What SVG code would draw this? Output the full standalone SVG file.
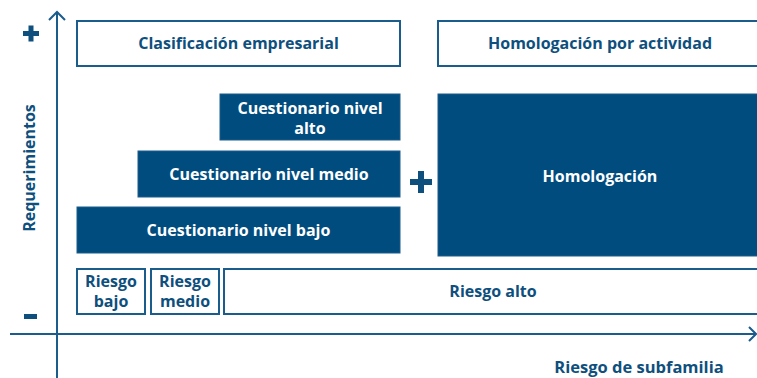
<svg xmlns="http://www.w3.org/2000/svg" width="757" height="378" viewBox="0 0 757 378">
<defs>
<style>
.o{fill:#fff;stroke:#1a5c8c;stroke-width:2}
.f{fill:#004c7e;stroke:#1a5c8c;stroke-width:1}
.t{font-family:"Open Sans","Liberation Sans",sans-serif;font-weight:700;font-size:16px;text-anchor:middle}
.d{fill:#0e4f7d}
.w{fill:#fff}
.ax{stroke:#1a5c8c;stroke-width:2;fill:none}
.sym{fill:#0e4f7d}
</style>
</defs>
<rect width="757" height="378" fill="#fff"/>
<g id="axes">
<line class="ax" x1="57" y1="12" x2="57" y2="378"/>
<polyline class="ax" points="49,20 57,12 65,20"/>
<line class="ax" x1="10" y1="334" x2="756" y2="334"/>
<polyline class="ax" points="749,327 756,334 749,341"/>
<text class="t d" transform="translate(35,168) rotate(-90)">Requerimientos</text>
<text class="t d" x="639" y="373" style="font-size:16.5px">Riesgo de subfamilia</text>
<rect class="sym" x="23" y="31" width="16" height="5"/>
<rect class="sym" x="28.5" y="25.5" width="5" height="16"/>
<rect class="sym" x="24" y="314" width="13" height="5"/>
</g>
<g id="clasificacion">
<rect class="o" x="77" y="21" width="323" height="45"/>
<text class="t d" x="238.5" y="49">Clasificación empresarial</text>
</g>
<g id="homologacion-actividad">
<rect class="o" x="438" y="21" width="330" height="45"/>
<text class="t d" x="600" y="49">Homologación por actividad</text>
</g>
<g id="cuestionario-alto">
<rect class="f" x="220" y="94" width="180" height="46"/>
<text class="t w" x="310" y="114">Cuestionario nivel</text>
<text class="t w" x="310" y="134">alto</text>
</g>
<g id="cuestionario-medio">
<rect class="f" x="138" y="151" width="262" height="46"/>
<text class="t w" x="269" y="180">Cuestionario nivel medio</text>
</g>
<g id="cuestionario-bajo">
<rect class="f" x="77" y="207" width="323" height="46"/>
<text class="t w" x="238.5" y="236">Cuestionario nivel bajo</text>
</g>
<g id="plus">
<rect class="sym" x="410" y="179" width="22" height="6"/>
<rect class="sym" x="418" y="171" width="6" height="22"/>
</g>
<g id="homologacion">
<rect class="f" x="438" y="94" width="330" height="162"/>
<text class="t w" x="600" y="182">Homologación</text>
</g>
<g id="riesgo-bajo">
<rect class="o" x="77" y="269" width="68" height="45"/>
<text class="t d" x="111" y="287">Riesgo</text>
<text class="t d" x="111" y="307">bajo</text>
</g>
<g id="riesgo-medio">
<rect class="o" x="151" y="269" width="68" height="45"/>
<text class="t d" x="185" y="287">Riesgo</text>
<text class="t d" x="185" y="307">medio</text>
</g>
<g id="riesgo-alto">
<rect class="o" x="224" y="269" width="544" height="45"/>
<text class="t d" x="493" y="297">Riesgo alto</text>
</g>
</svg>
